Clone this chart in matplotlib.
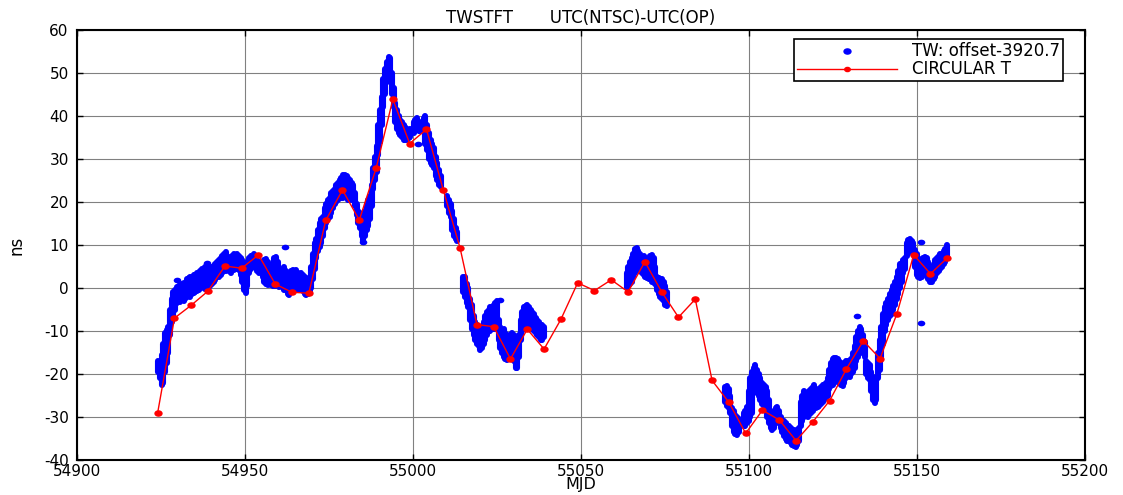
import numpy as np
import matplotlib
matplotlib.use("Agg")
import matplotlib.pyplot as plt
from matplotlib.path import Path
from matplotlib.lines import Line2D

plt.rcParams['font.family'] = ['DejaVu Sans']

# ---------------- Circular T values (every 5 days) ----------------
cirt_mjd = [54924, 54929, 54934, 54939, 54944, 54949, 54954, 54959, 54964, 54969,
            54974, 54979, 54984, 54989, 54994, 54999, 55004, 55009, 55014, 55019,
            55024, 55029, 55034, 55039, 55044, 55049, 55054, 55059, 55064, 55069,
            55074, 55079, 55084, 55089, 55094, 55099, 55104, 55109, 55114, 55119,
            55124, 55129, 55134, 55139, 55144, 55149, 55154, 55159]
cirt_ns = [-29.0, -7.0, -4.0, -0.7, 5.1, 4.6, 7.7, 0.9, -1.0, -1.2,
           15.7, 22.8, 15.8, 27.8, 43.9, 33.6, 36.9, 22.8, 9.3, -8.5,
           -9.0, -16.5, -9.6, -14.2, -7.3, 1.2, -0.6, 1.9, -0.9, 6.1,
           -0.9, -6.8, -2.6, -21.5, -26.6, -33.8, -28.4, -30.7, -35.5, -31.1,
           -26.2, -18.8, -12.3, -16.4, -6.0, 7.7, 3.3, 7.0]

# ---------------- TWSTFT spread per half day: (mjd, low, high) ----------------
tw_seg_a = [
    (54924.2, -19.5, -17.0), (54924.7, -21.0, -17.5), (54925.2, -22.5, -15.5),
    (54925.7, -22.0, -13.0), (54926.2, -19.5, -10.5), (54926.7, -17.5, -9.8),
    (54927.2, -15.0, -9.0), (54927.7, -11.0, -5.0), (54928.2, -8.0, -2.5),
    (54928.7, -6.5, -1.0), (54929.2, -5.0, -0.5), (54929.7, -3.5, 0.3),
    (54930.2, -3.0, 0.5), (54930.7, -3.2, 0.8), (54931.2, -2.8, 1.0),
    (54931.7, -3.0, 1.2), (54932.2, -2.5, 1.0), (54932.7, -2.0, 2.0),
    (54933.2, -1.8, 2.4), (54933.7, -2.0, 2.6), (54934.2, -1.5, 2.5),
    (54934.7, -1.2, 3.0), (54935.2, -1.0, 3.0), (54935.7, -0.8, 3.5),
    (54936.2, -0.5, 3.2), (54936.7, 0.0, 4.0), (54937.2, 0.2, 4.5),
    (54937.7, 0.0, 4.2), (54938.2, -0.2, 4.8), (54938.7, 0.5, 5.0),
    (54939.2, 0.8, 5.0), (54939.7, 0.5, 4.5), (54940.2, 1.0, 5.0),
    (54940.7, 1.5, 5.2), (54941.2, 1.8, 5.5), (54941.7, 2.5, 6.0),
    (54942.2, 2.5, 6.5), (54942.7, 3.0, 7.0), (54943.2, 3.5, 7.5),
    (54943.7, 4.0, 7.8), (54944.2, 4.0, 8.3), (54944.7, 4.5, 7.5),
    (54945.2, 4.0, 7.0), (54945.7, 3.5, 7.2), (54946.2, 4.5, 7.5),
    (54946.7, 4.2, 7.8), (54947.2, 4.5, 7.5), (54947.7, 4.8, 7.8),
    (54948.2, 4.2, 7.5), (54948.7, 3.0, 7.0), (54949.2, 1.5, 6.5),
    (54949.7, -0.5, 5.5), (54950.2, -1.2, 4.5), (54950.7, 0.5, 6.0),
    (54951.2, 3.5, 7.0), (54951.7, 4.5, 7.5), (54952.2, 5.0, 7.5),
    (54952.7, 5.0, 7.8), (54953.2, 4.8, 7.5), (54953.7, 4.0, 6.5),
    (54954.2, 3.5, 5.5), (54954.7, 3.8, 6.0), (54955.2, 2.5, 5.5),
    (54955.7, 1.5, 6.5), (54956.2, 1.0, 6.8), (54956.7, 0.8, 6.0),
    (54957.2, 1.5, 5.0), (54957.7, 0.7, 4.5), (54958.2, 0.5, 5.5),
    (54958.7, 0.5, 7.0), (54959.2, 0.5, 7.2), (54959.7, 1.0, 6.0),
    (54960.2, 0.3, 4.0), (54960.7, 0.5, 3.5), (54961.2, 0.0, 4.5),
    (54961.7, -0.5, 5.0), (54962.2, -0.5, 4.0), (54962.7, -1.5, 3.0),
    (54963.2, -1.6, 2.5), (54963.7, -1.0, 4.0), (54964.2, 0.0, 4.2),
    (54964.7, 0.5, 3.5), (54965.2, 0.0, 4.2), (54965.7, -0.5, 3.5),
    (54966.2, 0.0, 3.0), (54966.7, -0.5, 3.5), (54967.2, -0.8, 3.0),
    (54967.7, -1.5, 2.5), (54968.2, -1.6, 1.5), (54968.7, -1.5, 1.5),
    (54969.2, -1.2, 2.5), (54969.7, 0.0, 5.0), (54970.2, 2.0, 8.0),
    (54970.7, 4.5, 10.5), (54971.2, 7.0, 11.5),
]

tw_seg_b = [
    (54971.7, 8.5, 13.5), (54972.2, 9.5, 15.0), (54972.7, 10.5, 16.0),
    (54973.2, 12.0, 16.5), (54973.7, 14.0, 18.5), (54974.2, 15.0, 19.5),
    (54974.7, 16.0, 20.5), (54975.2, 16.5, 21.0), (54975.7, 17.5, 22.0),
    (54976.2, 18.5, 22.5), (54976.7, 19.5, 23.0), (54977.2, 20.0, 24.0),
    (54977.7, 20.5, 24.5), (54978.2, 21.0, 25.0), (54978.7, 21.0, 25.5),
    (54979.2, 21.0, 26.3), (54979.7, 21.5, 26.3), (54980.2, 21.0, 26.0),
    (54980.7, 20.5, 25.5), (54981.2, 20.5, 25.0), (54981.7, 20.5, 24.5),
    (54982.2, 20.5, 24.0), (54982.7, 19.0, 22.0), (54983.2, 17.0, 19.5),
    (54983.7, 15.0, 18.0), (54984.2, 14.0, 17.5), (54984.7, 12.0, 16.5),
    (54985.2, 10.8, 17.0), (54985.7, 12.0, 18.0), (54986.2, 13.5, 19.5),
    (54986.7, 14.5, 20.5), (54987.2, 16.0, 21.5), (54987.7, 19.0, 24.0),
    (54988.2, 23.0, 28.0), (54988.7, 25.0, 30.5), (54989.2, 27.0, 33.0),
    (54989.7, 31.0, 38.0), (54990.2, 34.0, 41.5), (54990.7, 38.0, 44.5),
    (54991.2, 42.0, 48.5), (54991.7, 45.0, 51.0), (54992.2, 48.0, 52.5),
    (54992.7, 49.0, 53.8), (54993.2, 48.5, 53.5), (54993.7, 45.0, 50.0),
    (54994.2, 42.0, 46.5), (54994.7, 38.5, 43.0), (54995.2, 37.0, 41.5),
    (54995.7, 36.0, 40.0), (54996.2, 35.5, 39.0), (54996.7, 35.0, 38.5),
    (54997.2, 34.5, 38.0), (54997.7, 34.5, 37.5), (54998.2, 34.5, 37.0),
    (54998.7, 34.8, 36.5), (54999.2, 35.0, 37.0),
    (55000.2, 36.0, 38.5), (55000.7, 36.5, 39.0), (55001.2, 36.8, 39.5),
    (55001.7, 36.5, 38.5), (55002.2, 36.5, 38.0), (55002.7, 36.5, 38.5),
    (55003.2, 36.5, 39.5), (55003.7, 33.5, 40.0), (55004.2, 32.0, 38.0),
    (55004.7, 30.0, 36.0), (55005.2, 29.0, 34.5), (55005.7, 28.5, 33.5),
    (55006.2, 28.0, 32.5), (55006.7, 26.0, 30.5), (55007.2, 25.0, 29.0),
    (55007.7, 24.0, 27.5), (55008.2, 23.5, 26.0),
    (55010.2, 19.0, 21.5), (55010.7, 17.5, 20.5), (55011.2, 16.5, 19.5),
    (55011.7, 13.5, 18.0), (55012.2, 12.0, 16.0), (55012.7, 11.5, 14.0),
    (55013.2, 11.0, 13.0),
]

tw_seg_c = [
    (55015.0, -1.0, 2.6), (55015.5, -2.0, 2.5), (55016.0, -3.5, 1.0),
    (55016.5, -4.5, 0.0), (55017.0, -7.5, -2.5), (55017.5, -9.5, -4.0),
    (55018.0, -11.0, -6.5), (55018.5, -12.0, -8.0), (55019.0, -13.0, -8.5),
    (55019.5, -13.5, -9.0), (55020.0, -14.4, -9.5), (55020.5, -14.0, -10.0),
    (55021.0, -13.0, -8.0), (55021.5, -12.0, -6.5), (55022.0, -11.0, -5.5),
    (55022.5, -10.0, -5.0), (55023.0, -10.0, -4.5), (55023.5, -9.5, -4.5),
    (55024.0, -9.5, -4.0), (55024.5, -9.0, -3.5), (55025.0, -9.5, -3.0),
    (55025.5, -12.0, -7.5), (55026.0, -14.0, -9.0), (55026.5, -15.0, -10.0),
    (55027.0, -16.0, -9.5), (55027.5, -16.5, -10.5), (55028.0, -16.7, -11.0),
    (55028.5, -16.0, -11.5), (55029.0, -15.5, -11.0), (55029.5, -16.0, -10.5),
    (55030.0, -17.0, -11.0), (55030.5, -18.7, -12.0), (55031.0, -18.5, -12.5),
    (55031.5, -16.0, -11.0), (55032.0, -12.0, -7.5), (55032.5, -10.0, -5.5),
    (55033.0, -9.5, -4.5), (55033.5, -9.0, -4.3), (55034.0, -8.5, -4.0),
    (55034.5, -8.5, -4.5), (55035.0, -9.0, -5.0), (55035.5, -9.5, -5.5),
    (55036.0, -10.0, -6.0), (55036.5, -10.5, -7.0), (55037.0, -11.0, -7.5),
    (55037.5, -11.5, -8.0), (55038.0, -12.0, -8.5), (55038.5, -12.0, -8.5),
    (55039.0, -11.5, -9.0),
]

tw_seg_d = [
    (55063.6, 0.0, 3.5), (55064.1, 0.5, 5.0), (55064.6, 1.0, 6.0),
    (55065.1, 1.5, 7.0), (55065.6, 2.5, 8.0), (55066.1, 3.5, 9.0),
    (55066.6, 4.5, 9.2), (55067.1, 4.5, 8.5), (55067.6, 4.0, 8.0),
    (55068.1, 3.5, 7.0), (55068.6, 3.0, 7.5), (55069.1, 2.5, 7.0),
    (55069.6, 2.3, 6.5), (55070.1, 2.0, 7.0), (55070.6, 2.0, 7.5),
    (55071.1, 1.5, 7.7), (55071.6, 1.5, 7.0), (55072.1, 1.0, 5.0),
    (55072.6, -0.5, 2.5), (55073.1, -1.5, 2.3), (55073.6, -2.0, 2.0),
    (55074.1, -2.5, 2.0), (55074.6, -3.0, 1.5), (55075.1, -4.0, 0.5),
    (55075.6, -4.3, -1.0),
]

tw_seg_e = [
    (55092.9, -26.5, -23.0), (55093.4, -27.5, -22.9), (55093.9, -28.0, -23.5),
    (55094.4, -29.0, -25.0), (55094.9, -32.0, -28.0), (55095.4, -33.5, -28.5),
    (55095.9, -34.0, -29.5), (55096.4, -34.2, -30.0), (55096.9, -33.5, -30.5),
    (55098.4, -32.0, -29.0), (55098.9, -32.2, -28.5), (55099.4, -31.5, -27.6),
    (55099.9, -31.0, -24.0), (55100.4, -30.0, -21.0), (55100.9, -29.0, -19.5),
    (55101.4, -24.5, -18.5), (55101.9, -23.5, -17.9), (55102.4, -24.0, -19.0),
    (55102.9, -25.0, -20.0), (55103.4, -26.0, -21.0), (55103.9, -27.0, -22.0),
    (55104.4, -27.5, -22.5), (55104.9, -28.5, -23.0), (55105.4, -30.0, -24.0),
    (55105.9, -31.5, -26.0), (55106.4, -32.5, -28.5), (55106.9, -33.0, -29.5),
    (55107.4, -32.5, -29.0), (55107.9, -31.5, -27.8), (55108.4, -31.0, -27.6),
    (55108.9, -31.5, -28.5), (55109.4, -32.5, -30.0), (55109.9, -33.5, -30.7),
    (55110.4, -34.5, -31.0), (55110.9, -35.0, -31.5), (55111.4, -35.5, -31.8),
    (55111.9, -35.5, -32.0), (55112.4, -36.0, -32.5), (55112.9, -36.5, -33.0),
    (55113.4, -36.8, -33.0), (55113.9, -36.9, -33.5), (55114.4, -36.5, -33.0),
    (55114.9, -35.5, -32.5), (55115.4, -32.2, -26.5), (55115.9, -31.0, -25.0),
    (55116.4, -30.0, -24.0), (55116.9, -29.5, -24.5), (55117.4, -29.9, -25.5),
    (55117.9, -29.5, -24.0), (55118.4, -29.0, -23.5), (55118.9, -28.5, -23.0),
    (55119.4, -28.0, -22.5), (55119.9, -28.0, -23.5), (55120.4, -27.6, -24.0),
    (55120.9, -27.5, -23.5), (55121.4, -27.0, -23.0), (55121.9, -26.5, -22.5),
    (55122.4, -26.0, -22.5), (55122.9, -25.5, -22.0), (55123.4, -25.0, -21.0),
    (55123.9, -23.5, -19.0), (55124.4, -22.9, -17.5), (55124.9, -22.5, -16.5),
    (55125.4, -22.0, -16.3), (55125.9, -21.5, -16.3), (55126.4, -21.5, -16.5),
    (55126.9, -22.0, -17.0), (55127.4, -22.5, -17.5), (55127.9, -22.9, -18.0),
    (55128.4, -22.0, -17.5), (55128.9, -21.0, -17.0), (55129.4, -20.5, -17.0),
    (55129.9, -20.6, -17.5), (55130.4, -20.0, -16.5), (55130.9, -19.5, -15.0),
    (55131.4, -18.5, -13.5), (55131.9, -17.0, -11.5), (55132.4, -16.0, -10.0),
    (55132.9, -15.0, -9.0), (55133.4, -14.0, -9.5), (55133.9, -15.0, -11.0),
    (55134.4, -16.0, -12.5), (55134.9, -20.0, -17.0), (55135.4, -21.0, -17.5),
    (55135.9, -21.4, -18.0), (55136.4, -24.0, -19.5), (55136.9, -26.0, -20.6),
    (55137.4, -26.8, -22.0), (55137.9, -26.0, -21.5), (55138.4, -21.0, -15.2),
    (55138.9, -19.0, -12.0), (55139.4, -16.5, -9.0), (55139.9, -13.0, -6.0),
    (55140.4, -10.0, -4.5), (55140.9, -8.5, -3.5), (55141.4, -7.5, -2.5),
    (55141.9, -6.5, -1.5), (55142.4, -6.0, -0.5), (55142.9, -5.0, 0.5),
    (55143.4, -4.0, 1.5), (55143.9, -2.5, 2.5), (55144.4, -1.5, 4.0),
    (55144.9, 0.0, 5.5), (55145.4, 1.5, 5.7), (55145.9, 3.5, 6.5),
    (55146.4, 4.5, 7.0), (55146.9, 7.5, 10.5), (55147.4, 8.4, 11.2),
    (55147.9, 8.5, 11.5), (55148.4, 8.5, 11.0), (55148.9, 8.0, 10.5),
    (55149.4, 5.0, 8.8), (55149.9, 3.0, 8.0), (55150.4, 2.5, 7.0),
    (55150.9, 2.3, 6.0), (55151.4, 2.5, 6.5), (55151.9, 3.0, 7.0),
    (55152.4, 3.5, 7.3), (55152.9, 3.0, 7.0), (55153.4, 2.0, 6.0),
    (55153.9, 1.5, 5.0), (55154.4, 1.5, 4.5), (55154.9, 2.0, 5.5),
    (55155.4, 2.5, 6.5), (55155.9, 3.5, 7.0), (55156.4, 4.0, 7.5),
    (55156.9, 4.5, 8.0), (55157.4, 5.0, 8.0), (55157.9, 5.5, 8.5),
    (55158.4, 6.0, 9.0), (55158.9, 7.0, 10.0),
]

# isolated TWSTFT points
tw_single_mjd = [54929.7, 54938.8, 54962.0, 54985.2, 55001.4, 55025.9, 55132.0, 55151.1, 55151.1]
tw_single_ns = [1.8, 5.7, 9.6, 10.8, 33.5, -2.8, -6.6, 10.8, -8.1]

x_ticks = [54900, 54950, 55000, 55050, 55100, 55150, 55200]
y_ticks = [-40, -30, -20, -10, 0, 10, 20, 30, 40, 50, 60]

# ---------------- drawing ----------------
blue = (0.0, 0.0, 1.0)
red = (1.0, 0.0, 0.0)

# a slightly wide dot, like the stretched point markers
_c = Path.unit_circle()
dot = Path(_c.vertices * np.array([1.35, 1.0]), _c.codes)

fig = plt.figure(figsize=(11.23, 4.95), dpi=100)
ax = fig.add_axes([0.0686, 0.0707, 0.8976, 0.8687])

tw_rows = np.array(tw_seg_a + tw_seg_b + tw_seg_c + tw_seg_d + tw_seg_e)
ax.vlines(tw_rows[:, 0], tw_rows[:, 1], tw_rows[:, 2], colors=[blue],
          linewidth=4.4, capstyle='round', zorder=3)
ax.scatter(tw_single_mjd, tw_single_ns, marker=dot, s=30, color=blue,
           linewidths=0, zorder=3)

ax.plot(cirt_mjd, cirt_ns, color=red, lw=1.0, marker=dot, markersize=5,
        markerfacecolor=red, markeredgecolor=red, zorder=4)

ax.set_xlim(54900, 55200)
ax.set_ylim(-40, 60)
ax.set_xticks(x_ticks)
ax.set_yticks(y_ticks)
ax.set_xticklabels([str(v) for v in x_ticks])
ax.set_yticklabels([str(v) for v in y_ticks])
ax.grid(True, color='#808080', lw=0.8, ls='-', zorder=1)
ax.set_axisbelow(True)
ax.tick_params(direction='in', length=4, width=1, top=True, right=True,
               labelsize=11, colors='black')
ax.tick_params(axis='x', pad=3)
ax.tick_params(axis='y', pad=6)
for sp in ax.spines.values():
    sp.set_linewidth(1.5)
    sp.set_color('black')

ax.set_title('TWSTFT       UTC(NTSC)-UTC(OP)', fontsize=12, pad=5)
ax.set_xlabel('MJD', fontsize=11.5)
ax.xaxis.label.set_verticalalignment('bottom')
ax.xaxis.set_label_coords(0.5, -0.0755)
ax.set_ylabel('ns', fontsize=12, labelpad=13)

handles = [
    Line2D([], [], ls='none', marker=dot, markersize=5, color=blue),
    Line2D([], [], ls='-', lw=1.0, marker=dot, markersize=4, color=red),
]
leg = ax.legend(handles, ['TW: offset-3920.7', 'CIRCULAR T'],
                loc='upper right', bbox_to_anchor=(0.978, 0.978),
                borderaxespad=0.0, fontsize=12, frameon=True, fancybox=False,
                handlelength=6.0, handletextpad=0.9, borderpad=0.18,
                labelspacing=0.0, framealpha=1)
leg.get_frame().set_edgecolor('black')
leg.get_frame().set_linewidth(1.2)

fig.savefig('out.png', dpi=100)
